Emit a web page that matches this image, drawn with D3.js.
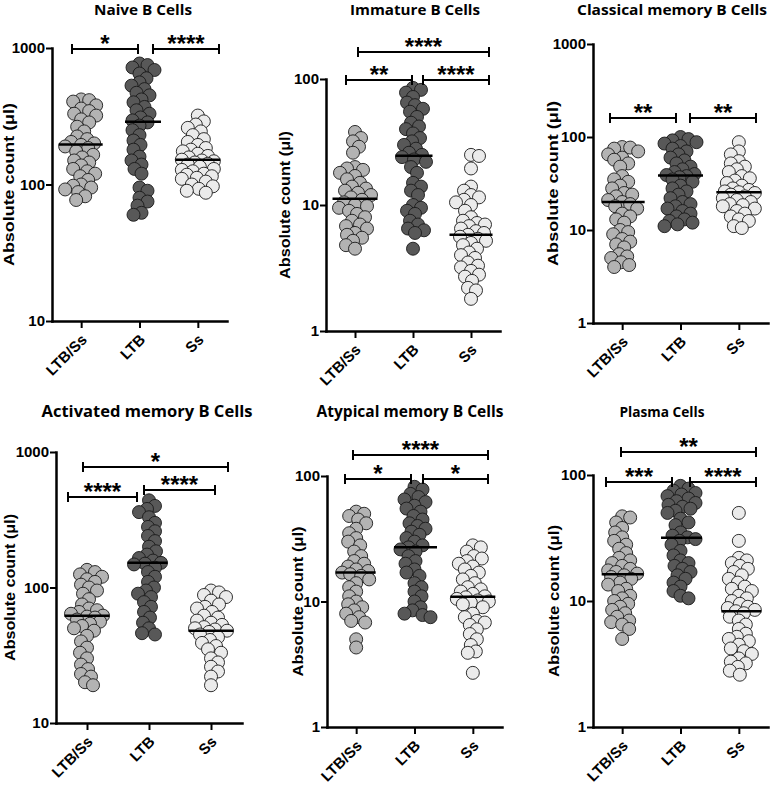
<!DOCTYPE html>
<html><head><meta charset="utf-8">
<script src="https://cdn.jsdelivr.net/npm/d3@7"></script>
<style>body{margin:0;background:#fff}</style>
</head><body>
<svg id="c" width="772" height="787"></svg>
<script>
// ---------- DATA ----------
const categories = ["LTB/Ss", "LTB", "Ss"];
const panelTitles = ["Naive B Cells", "Immature B Cells", "Classical memory B Cells",
  "Activated memory B Cells", "Atypical memory B Cells", "Plasma Cells"];
const yAxisLabel = "Absolute count (\u03bcl)";

const naiveTicks = [10, 100, 1000];
const immTicks = [1, 10, 100];
const clsTicks = [1, 10, 100, 1000];
const actTicks = [10, 100, 1000];
const atyTicks = [1, 10, 100];
const plsTicks = [1, 10, 100];

const naiveLTBSs = [420,415,405,380,360,345,330,320,300,285,265,245,225,215,205,200,195,190,185,175,165,158,150,145,138,130,125,120,115,108,100,98,95,92,88,82,77];
const naiveLTB = [770,750,720,690,650,600,560,530,500,470,450,420,400,370,350,330,310,295,285,270,250,230,210,195,180,160,150,140,130,120,95,90,80,75,70,62,60];
const naiveSs = [320,290,275,260,245,230,215,205,195,185,180,175,168,162,158,152,150,148,145,142,140,135,130,128,125,120,118,115,112,110,105,100,97,93,90,87];
const naiveMedians = [196, 288, 152];

const immLTBSs = [38,34,32,29,26,20,19.5,19,18,17,16,15,14,13.5,13,12.5,12,11.5,11,10.5,10,9.8,9.5,9,8.5,8,7.5,7,6.8,6.5,6,5.8,5.5,5.2,4.8,4.5];
const immLTB = [85,82,78,72,65,62,58,55,50,45,42,40,37,34,32,30,28,26,25,24,23,22,20,18,15,14,13,12,10,9.5,9,8.5,7.5,7,6.5,6.3,6,4.5];
const immSs = [25,24.5,19.5,14,13,12,11.5,11,10.5,10,9,8,7.5,7.2,7,6.8,6.5,6.2,6,5.8,5.6,5.4,5.2,5,4.8,4.5,4.2,4,3.8,3.5,3.3,3.2,3,2.8,2.7,2.5,2.2,2.1,1.8];
const immMedians = [11.2, 24.6, 5.8];

const clsLTBSs = [78,77,75,70,65,60,57,52,48,38,35,33,30,28,25,24,23,21,20,19,18,17,15,14,13,12,10,9.5,9,8,7.5,7,6.5,5.5,5.2,5,4.5,4.2,4];
const clsLTB = [100,95,92,88,85,80,75,70,65,60,56,52,48,45,42,40,39,38,37,35,33,30,28,26,24,22,20,19,18,17,16,15,14,13,12.5,12,11.5,11];
const clsSs = [88,70,65,55,52,48,45,42,38,36,34,32,30,28,27,26,25.5,25,24,23,22,21,20,19,18.5,18,17,16,15,14,13,12.5,11,10.5];
const clsMedians = [20, 38.5, 25.5];

const actLTBSs = [135,130,125,120,115,110,105,100,95,90,82,75,70,68,66,64,62,61,60,58,56,54,52,50,48,44,40,36,33,30,27,25,23,22,20,19];
const actLTB = [440,400,380,360,330,300,280,260,240,220,200,185,175,165,158,152,150,148,140,130,120,110,100,95,90,85,78,72,66,60,55,50,46,45];
const actSs = [95,92,88,85,80,75,72,70,66,62,60,57,55,53,51,50,49,48,47,45,43,41,39,37,35,33,30,28,26,24,22,19];
const actMedians = [62, 152, 48];

const atyLTBSs = [52,50,48,45,42,38,35,32,30,28,25,23,21,20,19,18,17.5,17,16.5,16,15,14,13,12,11,10,9.5,9,8.5,8,7.5,7,6.8,5,4.3];
const atyLTB = [82,78,72,68,65,62,58,55,52,48,45,42,40,38,36,34,32,30,28,27,26,25,23,21,20,18,17,16,14,13,12,11,10,9,8.5,8,7.8,7.5];
const atySs = [28,27,25,23,22,21,20,19,18,17,16,15,14,13,12.5,12,11.5,11,10.8,10.5,10.2,10,9.8,9.5,9,8,7.5,7,6.8,6.5,6,5.5,5,4.5,4,3.9,2.7];
const atyMedians = [17, 27, 10.9];

const plsLTBSs = [47,46,42,38,35,32,30,28,26,24,22,21,20,19,18,17.5,17,16.5,16,15.5,15,14,13.5,12.5,12,11,10.5,10,9.5,9,8.5,8,7.5,7,6.8,6.5,6,5];
const plsLTB = [82,78,75,72,70,68,65,62,60,58,56,54,52,50,45,42,40,35,33,32,31,30,28,25,23,21,20,19,18,17,16,15,14,13,12,11,10.5];
const plsSs = [50,30,22,21,20,19,18,17,16,15,14,13,12.5,12,11,10.5,10,9.5,9,8.8,8.5,8.3,8,7.5,7,6.5,6,5.5,5.2,5,4.8,4.5,4.2,4,3.8,3.5,3.3,3.2,3,2.8,2.6];
const plsMedians = [16.3, 31.8, 8.3];

const naiveStars = ["*", "****"];
const immStars = ["****", "**", "****"];
const clsStars = ["**", "**"];
const actStars = ["*", "****", "****"];
const atyStars = ["****", "*", "*"];
const plsStars = ["**", "***", "****"];

// ---------- STYLE / LAYOUT ----------
const fills = ["#b3b3b3", "#585858", "#ebebeb"];
const R = 6.5;
const layout = [
  {axisX:52, xEnd:227, yTop:48, yBot:321, titleX:143, titleY:15, titleSize:14, titleW:98, labX:9, labW:163,
   brackets:[[72,138,49],[153,219,49]]},
  {axisX:326, xEnd:500, yTop:79, yBot:331, titleX:415, titleY:15, titleSize:14.5, titleW:130, labX:285, labW:148,
   brackets:[[358,489,52],[346,412,80],[423,489,80]]},
  {axisX:593, xEnd:768, yTop:44, yBot:323, titleX:672, titleY:15, titleSize:15, titleW:190, labX:553, labW:165,
   brackets:[[610,676,118],[690,756,118]]},
  {axisX:56, xEnd:242, yTop:452, yBot:723, titleX:147, titleY:417, titleSize:16, titleW:211, labX:10, labW:147,
   brackets:[[83,228,467],[68,137,497],[144,215,490]]},
  {axisX:327, xEnd:502, yTop:476, yBot:727, titleX:410, titleY:417, titleSize:15.5, titleW:187, labX:298, labW:150,
   brackets:[[353,488,455],[345,411,479],[423,488,479]]},
  {axisX:593, xEnd:768, yTop:475, yBot:727, titleX:662, titleY:417, titleSize:15, titleW:85, labX:554, labW:152,
   brackets:[[621,756,452],[606,672,482],[690,756,482]]}
];

const panels = [
  {ticks: naiveTicks, groups:[naiveLTBSs, naiveLTB, naiveSs], medians: naiveMedians, stars: naiveStars},
  {ticks: immTicks, groups:[immLTBSs, immLTB, immSs], medians: immMedians, stars: immStars},
  {ticks: clsTicks, groups:[clsLTBSs, clsLTB, clsSs], medians: clsMedians, stars: clsStars},
  {ticks: actTicks, groups:[actLTBSs, actLTB, actSs], medians: actMedians, stars: actStars},
  {ticks: atyTicks, groups:[atyLTBSs, atyLTB, atySs], medians: atyMedians, stars: atyStars},
  {ticks: plsTicks, groups:[plsLTBSs, plsLTB, plsSs], medians: plsMedians, stars: plsStars}
];

const AXF = "Liberation Sans, Arial, sans-serif";
const TF = "Open Sans, sans-serif";

function swarm(vals, cx, y) {
  const pts = vals.map(v => ({v, y: y(v)})).sort((a, b) => a.y - b.y);
  const placed = [];
  const minD = 8, maxOff = 16;
  pts.forEach(p => {
    let best = 0, bestD = -1, found = false;
    for (let k = 0; k <= maxOff && !found; k++) {
      const cands = k === 0 ? [0] : (placed.length % 2 ? [k, -k] : [-k, k]);
      for (const o of cands) {
        let md = Infinity;
        for (const q of placed) { const d = Math.hypot(q.x - (cx + o), q.y - p.y); if (d < md) md = d; }
        if (md >= minD) { best = o; found = true; break; }
        if (md > bestD) { bestD = md; best = o; }
      }
    }
    p.x = cx + best; placed.push(p);
  });
  return placed;
}

const svg = d3.select("#c");

panels.forEach((P, i) => {
  const L = layout[i];
  const g = svg.append("g");
  const y = d3.scaleLog().domain([P.ticks[0], P.ticks[P.ticks.length - 1]]).range([L.yBot, L.yTop]);
  const x = d3.scalePoint().domain(categories).range([L.axisX, L.xEnd]).padding(0.5);

  // title
  g.append("text").attr("x", L.titleX).attr("y", L.titleY).attr("text-anchor", "middle")
    .style("font-family", TF).style("font-weight", 700).style("font-size", L.titleSize + "px")
    .attr("textLength", L.titleW).attr("lengthAdjust", "spacingAndGlyphs")
    .text(panelTitles[i]);

  // y label
  const ymid = (L.yTop + L.yBot) / 2;
  g.append("text").attr("transform", `translate(${L.labX},${ymid}) rotate(-90)`)
    .attr("text-anchor", "middle").attr("dy", "0.35em")
    .style("font-family", AXF).style("font-weight", 700).style("font-size", "15.5px")
    .attr("textLength", L.labW).attr("lengthAdjust", "spacingAndGlyphs")
    .text(yAxisLabel);

  // points
  P.groups.forEach((vals, gi) => {
    const pts = swarm(vals, x(categories[gi]), y);
    g.append("g").selectAll("circle").data(pts).join("circle")
      .attr("cx", d => d.x).attr("cy", d => d.y).attr("r", R)
      .attr("fill", fills[gi]).attr("stroke", "#1a1a1a").attr("stroke-width", 0.9);
    const ext = d3.extent(pts, d => d.x);
    g.append("line").attr("x1", ext[0] - R).attr("x2", ext[1] + R)
      .attr("y1", y(P.medians[gi])).attr("y2", y(P.medians[gi]))
      .attr("stroke", "#000").attr("stroke-width", 2.5);
  });

  // axes
  const ya = g.append("g").attr("transform", `translate(${L.axisX},0)`)
    .call(d3.axisLeft(y).tickValues(P.ticks).tickFormat(d3.format("d")).tickSize(6).tickSizeOuter(0));
  ya.select(".domain").attr("stroke-width", 2.5).attr("stroke-linecap", "square");
  ya.selectAll(".tick line").attr("stroke-width", 2);
  ya.selectAll(".tick text").attr("x", -7)
    .style("font-family", AXF).style("font-weight", 700).style("font-size", "15px").attr("fill", "#000");

  const xa = g.append("g").attr("transform", `translate(0,${L.yBot})`)
    .call(d3.axisBottom(x).tickSize(7).tickSizeOuter(0).tickFormat(""));
  xa.select(".domain").attr("stroke-width", 2.5).attr("stroke-linecap", "square");
  xa.selectAll(".tick line").attr("stroke-width", 2);

  // rotated category labels
  g.append("g").selectAll("text").data(categories).join("text")
    .attr("transform", d => `translate(${x(d) + 3},${L.yBot + 16}) rotate(-45)`)
    .attr("text-anchor", "end").attr("dy", "0.35em")
    .style("font-family", AXF).style("font-weight", 700).style("font-size", "15px")
    .attr("fill", "#000").text(d => d);

  // brackets
  L.brackets.forEach((b, bi) => {
    const [x1, x2, by] = b;
    g.append("path").attr("d", `M${x1},${by - 5}V${by + 5}M${x1},${by}H${x2}M${x2},${by - 5}V${by + 5}`)
      .attr("fill", "none").attr("stroke", "#000").attr("stroke-width", 2);
    g.append("text").attr("x", (x1 + x2) / 2).attr("y", by + 3).attr("text-anchor", "middle")
      .style("font-family", AXF).style("font-weight", 700).style("font-size", "24px")
      .text(P.stars[bi]);
  });
});
</script>
</body></html>
